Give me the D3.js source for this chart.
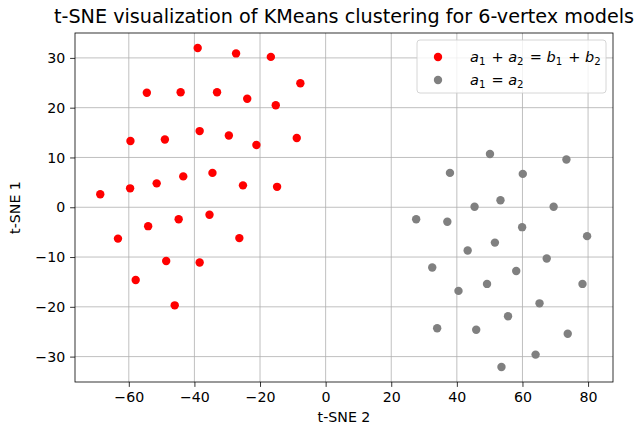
<!DOCTYPE html>
<html><head><meta charset="utf-8">
<script src="https://cdn.jsdelivr.net/npm/d3@7"></script>
<style>body{margin:0;background:#fff}svg{font-family:"DejaVu Sans",sans-serif}</style>
</head><body>
<svg id="c" width="639" height="428"></svg>
<script>
const redX = [-39.0,-27.3,-16.7,-7.7,-54.5,-44.2,-33.1,-23.9,-15.2,-59.5,-49.0,-38.4,-29.5,-21.1,-8.8,-68.7,-59.6,-51.5,-43.4,-34.5,-25.2,-14.8,-54.1,-44.8,-35.4,-63.3,-26.3,-48.6,-38.4,-57.9,-46.0];
const redY = [32.0,30.9,30.2,24.9,23.0,23.1,23.1,21.8,20.5,13.3,13.6,15.3,14.4,12.5,13.9,2.6,3.8,4.8,6.2,6.9,4.4,4.1,-3.8,-2.4,-1.5,-6.3,-6.2,-10.8,-11.1,-14.6,-19.7];
const grayX = [50.1,73.4,37.9,60.1,53.3,45.4,69.5,27.6,37.1,59.9,79.7,51.6,43.3,67.4,32.5,58.1,49.2,40.5,78.3,65.2,55.6,34.0,45.9,73.8,64.0,53.6];
const grayY = [10.7,9.6,6.9,6.7,1.4,0.1,0.1,-2.4,-2.9,-4.0,-5.8,-7.1,-8.7,-10.3,-12.1,-12.8,-15.4,-16.8,-15.4,-19.3,-21.9,-24.3,-24.6,-25.4,-29.6,-32.1];
const xTicks = [-60,-40,-20,0,20,40,60,80];
const yTicks = [-30,-20,-10,0,10,20,30];
const title = "t-SNE visualization of KMeans clustering for 6-vertex models";

const svg = d3.select("#c");
const L=75,R=613,T=33,B=382;
const x = d3.scaleLinear().domain([-76.4,87.6]).range([L,R]);
const y = d3.scaleLinear().domain([-35.1,35.0]).range([B,T]);
const fmt = d => (d<0?"\u2212":"")+Math.abs(d);

// grid
svg.append("g").selectAll("line").data(xTicks).join("line")
  .attr("x1",d=>x(d)).attr("x2",d=>x(d)).attr("y1",T).attr("y2",B)
  .attr("stroke","#b0b0b0").attr("stroke-width",0.8);
svg.append("g").selectAll("line").data(yTicks).join("line")
  .attr("y1",d=>y(d)).attr("y2",d=>y(d)).attr("x1",L).attr("x2",R)
  .attr("stroke","#b0b0b0").attr("stroke-width",0.8);

// points
const red = redX.map((v,i)=>[v,redY[i]]);
const gray = grayX.map((v,i)=>[v,grayY[i]]);
svg.append("g").selectAll("circle").data(red).join("circle")
  .attr("cx",d=>x(d[0])).attr("cy",d=>y(d[1])).attr("r",4.2).attr("fill","#ff0000");
svg.append("g").selectAll("circle").data(gray).join("circle")
  .attr("cx",d=>x(d[0])).attr("cy",d=>y(d[1])).attr("r",4.2).attr("fill","#808080");

// axes
const xa = svg.append("g").attr("transform",`translate(0,${B})`)
  .call(d3.axisBottom(x).tickValues(xTicks).tickFormat(fmt).tickSize(4.9).tickPadding(4.9));
const ya = svg.append("g").attr("transform",`translate(${L},0)`)
  .call(d3.axisLeft(y).tickValues(yTicks).tickFormat(fmt).tickSize(4.9).tickPadding(4.9));
[xa,ya].forEach(a=>{a.select(".domain").remove();
  a.selectAll("text").attr("font-size","14.2px").attr("font-family","DejaVu Sans").attr("fill","#000");
  a.selectAll("line").attr("stroke","#000").attr("stroke-width",0.8);});
svg.append("rect").attr("x",L).attr("y",T).attr("width",R-L).attr("height",B-T)
  .attr("fill","none").attr("stroke","#000").attr("stroke-width",0.8);

// labels
svg.append("text").attr("x",(L+R)/2).attr("y",23).attr("text-anchor","middle")
  .attr("font-size","19.2px").text(title);
svg.append("text").attr("x",(L+R)/2).attr("y",422).attr("text-anchor","middle")
  .attr("font-size","14.2px").text("t-SNE 2");
svg.append("text").attr("transform",`translate(20,${(T+B)/2}) rotate(-90)`).attr("text-anchor","middle")
  .attr("font-size","14.2px").text("t-SNE 1");

// legend
const lg = svg.append("g");
lg.append("rect").attr("x",417).attr("y",40).attr("width",189).attr("height",53).attr("rx",3)
  .attr("fill","#fff").attr("fill-opacity",0.8).attr("stroke","#cccccc").attr("stroke-width",0.8);
lg.append("circle").attr("cx",438).attr("cy",57).attr("r",4.2).attr("fill","#ff0000");
lg.append("circle").attr("cx",438).attr("cy",80).attr("r",4.2).attr("fill","#808080");
function mathText(g, xx, yy, parts){
  const t = g.append("text").attr("x",xx).attr("y",yy).attr("font-size","14.5px");
  parts.forEach(p=>{
    if(p.sub){ t.append("tspan").attr("dy",3).attr("font-size","10.2px").text(p.t);
               t.append("tspan").attr("dy",-3).text("\u200a"); }
    else t.append("tspan").attr("font-style",p.i?"italic":"normal").text(p.t);
  });
}
mathText(lg,470,62,[{t:"a",i:1},{t:"1",sub:1},{t:" + "},{t:"a",i:1},{t:"2",sub:1},{t:" = "},{t:"b",i:1},{t:"1",sub:1},{t:" + "},{t:"b",i:1},{t:"2",sub:1}]);
mathText(lg,470,85,[{t:"a",i:1},{t:"1",sub:1},{t:" = "},{t:"a",i:1},{t:"2",sub:1}]);
</script>
</body></html>
